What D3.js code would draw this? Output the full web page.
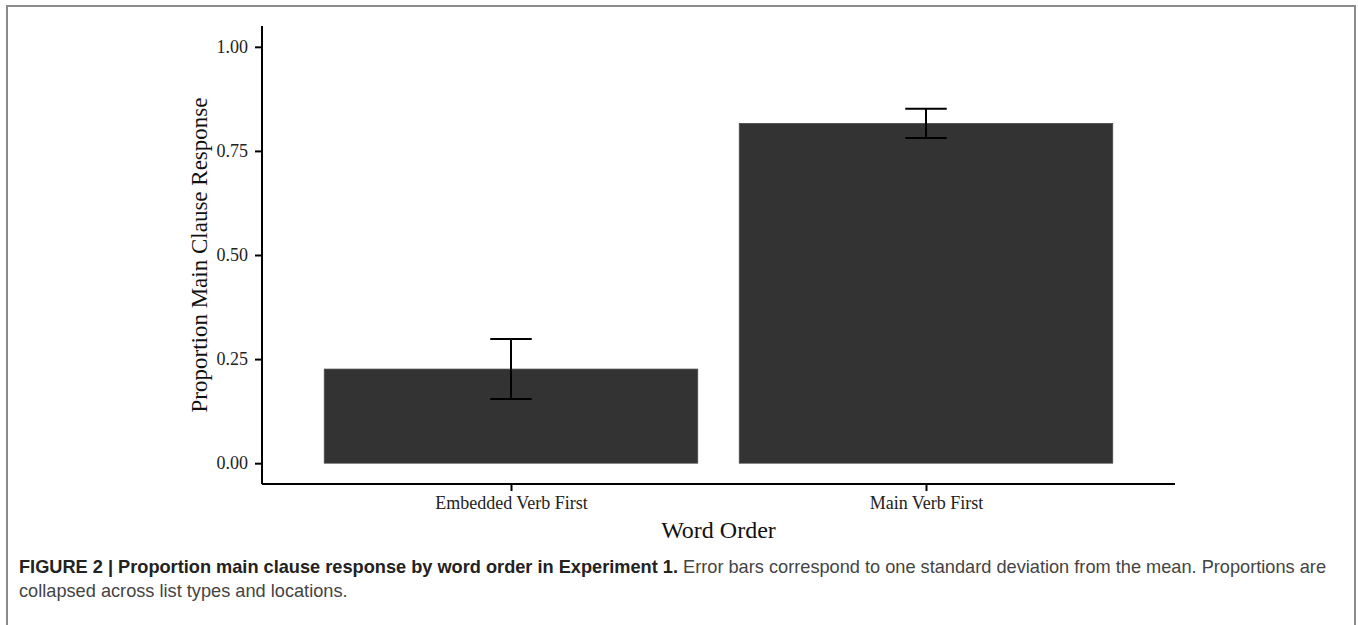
<!DOCTYPE html>
<html>
<head>
<meta charset="utf-8">
<script src="https://cdn.jsdelivr.net/npm/d3@7/dist/d3.min.js"></script>
<style>
  body { margin: 0; background: #fff; }
  svg { display: block; }
</style>
</head>
<body>
<svg id="chart" width="1358" height="625"></svg>
<script>
(function () {
  'use strict';

  var categories = ["Embedded Verb First", "Main Verb First"];
  var means = [0.226, 0.816];
  var sds = [0.072, 0.035];
  var yTicks = [0, 0.25, 0.5, 0.75, 1];

  var width = 1358;
  var height = 625;
  var serif = "'Liberation Serif', 'Times New Roman', serif";
  var sans = "'Liberation Sans Narrow', 'Arial Narrow', 'Liberation Sans', Arial, sans-serif";

  var svg = d3.select("#chart")
    .attr("width", width)
    .attr("height", height);

  // outer figure frame
  svg.append("rect")
    .attr("x", 7).attr("y", 6)
    .attr("width", 1348).attr("height", 640)
    .attr("fill", "none")
    .attr("stroke", "#8a8a8a")
    .attr("stroke-width", 2);

  var left = 262, right = 1175, top = 26, bottom = 484;

  // ggplot style discrete expand: 0.6 units each side
  var x = d3.scaleLinear().domain([0.4, categories.length + 0.6]).range([left, right]);
  var y = d3.scaleLinear().domain([-0.05, 1.05]).range([bottom, top]);
  var barW = 0.9;

  var data = categories.map(function (c, i) {
    return { cat: c, pos: i + 1, mean: means[i], sd: sds[i] };
  });

  var g = svg.append("g");

  g.selectAll("rect.bar")
    .data(data)
    .enter().append("rect")
    .attr("class", "bar")
    .attr("x", function (d) { return x(d.pos - barW / 2); })
    .attr("width", function (d) { return x(d.pos + barW / 2) - x(d.pos - barW / 2); })
    .attr("y", function (d) { return y(d.mean); })
    .attr("height", function (d) { return y(0) - y(d.mean); })
    .attr("fill", "#333333")
    .attr("stroke", "#4a4a4a")
    .attr("stroke-width", 0.8);

  // error bars (mean +/- sd)
  var capHalf = 0.05;
  var eb = g.selectAll("g.err")
    .data(data)
    .enter().append("g")
    .attr("class", "err")
    .attr("stroke", "#000")
    .attr("stroke-width", 2);

  eb.append("line")
    .attr("x1", function (d) { return x(d.pos); })
    .attr("x2", function (d) { return x(d.pos); })
    .attr("y1", function (d) { return y(d.mean - d.sd); })
    .attr("y2", function (d) { return y(d.mean + d.sd); });
  eb.append("line")
    .attr("x1", function (d) { return x(d.pos - capHalf); })
    .attr("x2", function (d) { return x(d.pos + capHalf); })
    .attr("y1", function (d) { return y(d.mean + d.sd); })
    .attr("y2", function (d) { return y(d.mean + d.sd); });
  eb.append("line")
    .attr("x1", function (d) { return x(d.pos - capHalf); })
    .attr("x2", function (d) { return x(d.pos + capHalf); })
    .attr("y1", function (d) { return y(d.mean - d.sd); })
    .attr("y2", function (d) { return y(d.mean - d.sd); });

  // axes
  var yAxis = d3.axisLeft(y)
    .tickValues(yTicks)
    .tickFormat(d3.format(".2f"))
    .tickSize(7)
    .tickPadding(7);
  var xAxis = d3.axisBottom(x)
    .tickValues(data.map(function (d) { return d.pos; }))
    .tickFormat(function (p) { return categories[p - 1]; })
    .tickSize(7)
    .tickPadding(5);

  var ya = svg.append("g")
    .attr("transform", "translate(" + left + ",0)")
    .call(yAxis);
  var xa = svg.append("g")
    .attr("transform", "translate(0," + bottom + ")")
    .call(xAxis);

  [ya, xa].forEach(function (a) {
    a.select(".domain").attr("stroke", "#000").attr("stroke-width", 2);
    a.selectAll(".tick line").attr("stroke", "#000").attr("stroke-width", 2);
    a.selectAll(".tick text")
      .attr("fill", "#222")
      .style("font-family", serif)
      .style("font-size", "18px");
  });
  // domain without outer ticks
  ya.select(".domain").attr("d", "M0," + top + "V" + bottom);
  xa.select(".domain").attr("d", "M" + left + ",0H" + right);

  svg.append("text")
    .attr("transform", "translate(207," + y(0.5) + ") rotate(-90)")
    .attr("text-anchor", "middle")
    .style("font-family", serif)
    .style("font-size", "23px")
    .attr("fill", "#111")
    .text("Proportion Main Clause Response");

  svg.append("text")
    .attr("x", (left + right) / 2)
    .attr("y", 538)
    .attr("text-anchor", "middle")
    .style("font-family", serif)
    .style("font-size", "24px")
    .attr("fill", "#111")
    .text("Word Order");

  // caption
  var cap = svg.append("text")
    .style("font-family", sans)
    .style("font-size", "18.2px")
    .attr("fill", "#444");
  var l1 = cap.append("tspan").attr("x", 19).attr("y", 573);
  l1.append("tspan").attr("font-weight", "bold").attr("fill", "#222")
    .text("FIGURE 2 | Proportion main clause response by word order in Experiment 1.");
  l1.append("tspan").text(" Error bars correspond to one standard deviation from the mean. Proportions are");
  cap.append("tspan").attr("x", 19).attr("y", 597)
    .text("collapsed across list types and locations.");
})();
</script>
</body>
</html>
